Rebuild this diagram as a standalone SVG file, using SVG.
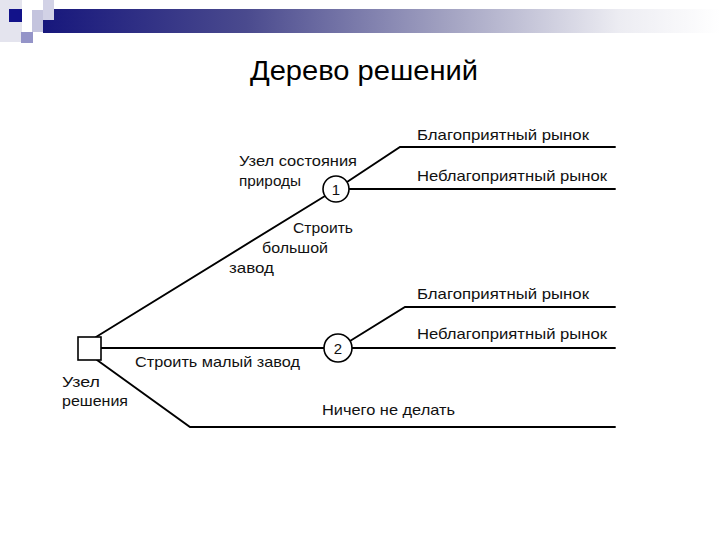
<svg xmlns="http://www.w3.org/2000/svg" width="720" height="540" viewBox="0 0 720 540">
<defs>
<linearGradient id="bar" x1="0" y1="0" x2="1" y2="0">
<stop offset="0" stop-color="#17177c"/>
<stop offset="0.3" stop-color="#4a4a8e"/>
<stop offset="0.6" stop-color="#a3a3c2"/>
<stop offset="0.85" stop-color="#ececf2"/>
<stop offset="1" stop-color="#ffffff"/>
</linearGradient>
<style>
.ln{stroke:#000;stroke-width:1.9;fill:none;stroke-linecap:round}
.nd{stroke:#000;stroke-width:1.6;fill:#fff}
.lb{font-family:"Liberation Sans",Arial,sans-serif;font-size:15px;fill:#111}
.num{font-family:"Liberation Sans",Arial,sans-serif;font-size:15px;fill:#111;text-anchor:middle}
.title{font-family:"Liberation Sans",Arial,sans-serif;font-size:27px;fill:#000}
</style>
</defs>
<rect width="720" height="540" fill="#fff"/>
<g id="decoration">
<rect x="0" y="0" width="22" height="42" fill="#e4e4ee"/>
<rect x="43" y="9" width="677" height="24" fill="url(#bar)"/>
<rect x="43" y="0" width="11" height="20" fill="#d2d2e6"/>
<rect x="32" y="10" width="11" height="22" fill="#c4c4de"/>
<rect x="9" y="9" width="13" height="13" fill="#12128a"/>
<rect x="21" y="32" width="12" height="11" fill="#9494c8"/>
</g>
<text class="title" x="250" y="80" textLength="228" lengthAdjust="spacingAndGlyphs">Дерево решений</text>
<g id="connectors">
<line class="ln" x1="96" y1="337" x2="325" y2="196"/>
<polyline class="ln" points="347,182 400,147 615,147"/>
<line class="ln" x1="349" y1="189" x2="615" y2="189"/>
<line class="ln" x1="101" y1="348" x2="324" y2="348"/>
<polyline class="ln" points="350,341 405,307 615,307"/>
<line class="ln" x1="352" y1="348" x2="615" y2="348"/>
<polyline class="ln" points="97,360 190,427 615,427"/>
</g>
<g id="decision-node">
<rect class="nd" x="78" y="337" width="23" height="23"/>
</g>
<g id="chance-node-1">
<circle class="nd" cx="336" cy="189" r="13"/>
<text class="num" x="336" y="194.5">1</text>
</g>
<g id="chance-node-2">
<circle class="nd" cx="338" cy="348" r="14"/>
<text class="num" x="338" y="353.5">2</text>
</g>
<g id="labels">
<text class="lb" x="239" y="166" textLength="118" lengthAdjust="spacingAndGlyphs">Узел состояния</text>
<text class="lb" x="239" y="186" textLength="62" lengthAdjust="spacingAndGlyphs">природы</text>
<text class="lb" x="417" y="140" textLength="172" lengthAdjust="spacingAndGlyphs">Благоприятный рынок</text>
<text class="lb" x="417" y="181" textLength="190" lengthAdjust="spacingAndGlyphs">Неблагоприятный рынок</text>
<text class="lb" x="293" y="233" textLength="60" lengthAdjust="spacingAndGlyphs">Строить</text>
<text class="lb" x="262" y="253" textLength="66" lengthAdjust="spacingAndGlyphs">большой</text>
<text class="lb" x="229" y="273" textLength="45" lengthAdjust="spacingAndGlyphs">завод</text>
<text class="lb" x="417" y="299" textLength="172" lengthAdjust="spacingAndGlyphs">Благоприятный рынок</text>
<text class="lb" x="417" y="339" textLength="190" lengthAdjust="spacingAndGlyphs">Неблагоприятный рынок</text>
<text class="lb" x="135" y="367" textLength="165" lengthAdjust="spacingAndGlyphs">Строить малый завод</text>
<text class="lb" x="62" y="387" textLength="38" lengthAdjust="spacingAndGlyphs">Узел</text>
<text class="lb" x="62" y="406" textLength="66" lengthAdjust="spacingAndGlyphs">решения</text>
<text class="lb" x="322" y="415" textLength="133" lengthAdjust="spacingAndGlyphs">Ничего не делать</text>
</g>
</svg>
